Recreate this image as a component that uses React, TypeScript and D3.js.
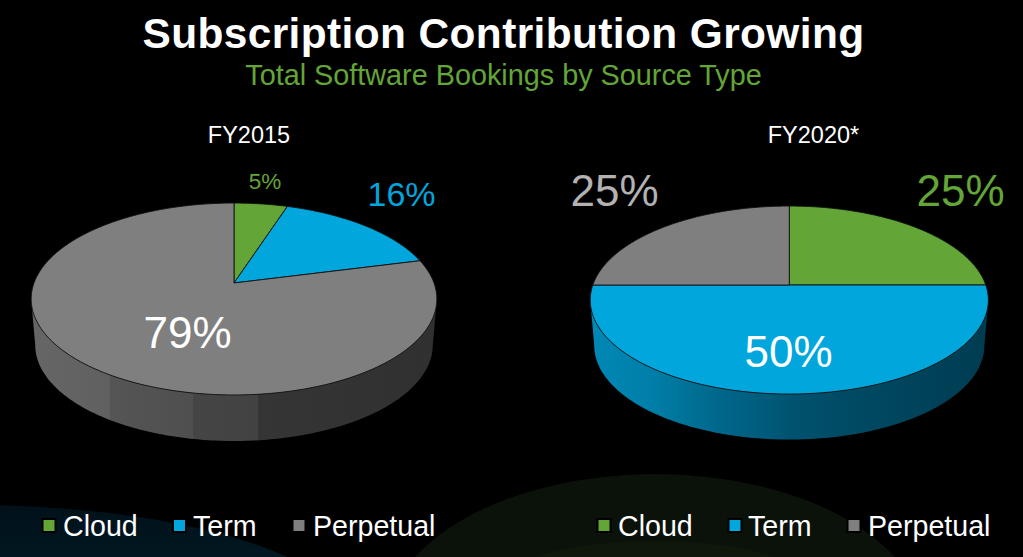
import React from "react";
import * as d3 from "d3";

const categories = ["Cloud", "Term", "Perpetual"];
const fy2015Values = [5, 16, 79];
const fy2020Values = [25, 50, 25];
const pieTitles = ["FY2015", "FY2020*"];

const COLORS: Record<string, string> = { Cloud: "#63a537", Term: "#00a6dc", Perpetual: "#7f7f7f" };
const W = 1023, H = 557;
const FONT = "'Liberation Sans', Arial, sans-serif";

type Geo = { cx: number; cy: number; A: number; B: number; k: number; depth: number };
const leftGeo: Geo = { cx: 234, cy: 283, A: 200, B: 93.3, k: 0.1667, depth: 46 };
const rightGeo: Geo = { cx: 789.3, cy: 285, A: 196.5, B: 91.6, k: 0.16, depth: 45.5 };

function project(g: Geo, a: number, r = 1, dy = 0, sx = 1): [number, number] {
  const u = Math.sin(a) * r, v = -Math.cos(a) * r;
  const w = 1 - g.k * v;
  return [g.cx + (g.A * sx * u) / w, g.cy + (g.B * v) / w + dy];
}

const line = d3.line<[number, number]>();

function slicePath(g: Geo, a0: number, a1: number) {
  const n = Math.max(2, Math.ceil((a1 - a0) / (Math.PI / 180)));
  const pts: [number, number][] = [[g.cx, g.cy]];
  d3.range(n + 1).forEach((i) => pts.push(project(g, a0 + ((a1 - a0) * i) / n)));
  return line(pts) + "Z";
}

function sidePath(g: Geo) {
  const t = Math.acos(g.k);
  const lo = Math.PI / 2 + (Math.PI / 2 - t);
  const hi = 2 * Math.PI - lo;
  const n = 180;
  const pts: [number, number][] = [];
  d3.range(n + 1).forEach((i) => pts.push(project(g, lo + ((hi - lo) * i) / n, 1, g.depth, 0.98)));
  d3.range(n + 1).forEach((i) => pts.push(project(g, hi - ((hi - lo) * i) / n)));
  return line(pts) + "Z";
}

function Pie3D({ g, values, sideId }: { g: Geo; values: number[]; sideId: string }) {
  const arcs = d3.pie<number>().sort(null)(values);
  return (
    <g>
      <path d={sidePath(g)} fill={`url(#${sideId})`} />
      {arcs.map((d, i) => (
        <path
          key={i}
          d={slicePath(g, d.startAngle, d.endAngle)}
          fill={COLORS[categories[i]]}
          stroke="#111"
          strokeWidth={0.9}
          strokeLinejoin="round"
        />
      ))}
    </g>
  );
}

function Legend({ xs, textXs }: { xs: number[]; textXs: number[] }) {
  return (
    <g>
      {categories.map((c, i) => (
        <g key={c}>
          <rect x={xs[i]} y={519} width={13} height={13} fill={COLORS[c]} stroke="#000" strokeWidth={2} />
          <text x={textXs[i]} y={536} fontSize={28.6} fill="#fff" fontFamily={FONT}>{c}</text>
        </g>
      ))}
    </g>
  );
}

function Label({ x, y, size, fill, children }: any) {
  return <text x={x} y={y} fontSize={size} fill={fill} textAnchor="middle" fontFamily={FONT}>{children}</text>;
}

const grayStops: [number, string][] = [
  [31, "#666666"], [109.5, "#606060"], [110, "#555555"], [192.5, "#4f4f4f"], [193, "#454545"],
  [258, "#424242"], [258.5, "#353535"], [437, "#303030"],
];
const blueStops: [number, string][] = [
  [590, "#0088b6"], [650, "#007fa9"], [700, "#006d92"], [750, "#005f80"], [800, "#00516d"],
  [850, "#004a63"], [988, "#003c52"],
];

function SideGrad({ id, stops }: { id: string; stops: [number, string][] }) {
  const x0 = stops[0][0], x1 = stops[stops.length - 1][0];
  return (
    <linearGradient id={id} gradientUnits="userSpaceOnUse" x1={x0} x2={x1} y1={0} y2={0}>
      {stops.map(([x, c], i) => (
        <stop key={i} offset={(x - x0) / (x1 - x0)} stopColor={c} />
      ))}
    </linearGradient>
  );
}

export default function App() {
  return (
    <svg width={W} height={H} viewBox={`0 0 ${W} ${H}`} style={{ position: "absolute", left: 0, top: 0, display: "block", background: "#000" }}>
      <defs>
        <SideGrad id="sideGray" stops={grayStops} />
        <SideGrad id="sideBlue" stops={blueStops} />
        <linearGradient id="teal" x1={0} x2={0} y1={0} y2={1}>
          <stop offset={0} stopColor="#01111a" />
          <stop offset={0.45} stopColor="#021d27" />
          <stop offset={1} stopColor="#021d27" />
        </linearGradient>
      </defs>
      <rect width={W} height={H} fill="#000" />
      <ellipse cx={-30} cy={620} rx={379} ry={115} fill="url(#teal)" />
      <ellipse cx={655} cy={624} rx={268} ry={150} fill="#0b120a" />
      <ellipse cx={655} cy={581} rx={150} ry={40} fill="#0f170b" />

      <text x={503.5} y={48} fontSize={42.4} fontWeight={700} fill="#fff" textAnchor="middle" fontFamily={FONT} letterSpacing={0.4}>
        Subscription Contribution Growing
      </text>
      <text x={503.5} y={85} fontSize={28.8} fill="#63a537" textAnchor="middle" fontFamily={FONT}>
        Total Software Bookings by Source Type
      </text>

      <Label x={249} y={142.5} size={23.5} fill="#fff">{pieTitles[0]}</Label>
      <Label x={813.5} y={142.5} size={23.5} fill="#fff">{pieTitles[1]}</Label>

      <Pie3D g={leftGeo} values={fy2015Values} sideId="sideGray" />
      <Pie3D g={rightGeo} values={fy2020Values} sideId="sideBlue" />

      <Label x={265} y={189} size={22.5} fill="#63a537">{`${fy2015Values[0]}%`}</Label>
      <Label x={401.5} y={206} size={34} fill="#00a6dc">{`${fy2015Values[1]}%`}</Label>
      <Label x={187.5} y={348} size={44} fill="#fff">{`${fy2015Values[2]}%`}</Label>
      <Label x={614.5} y={206} size={44} fill="#b2b2b2">{`${fy2020Values[2]}%`}</Label>
      <Label x={960.5} y={206} size={44} fill="#63a537">{`${fy2020Values[0]}%`}</Label>
      <Label x={788.5} y={367} size={44} fill="#fff">{`${fy2020Values[1]}%`}</Label>

      <Legend xs={[42.5, 173, 292.5]} textXs={[63, 193, 313]} />
      <Legend xs={[597.5, 728.5, 847.5]} textXs={[618, 748, 868]} />
    </svg>
  );
}
